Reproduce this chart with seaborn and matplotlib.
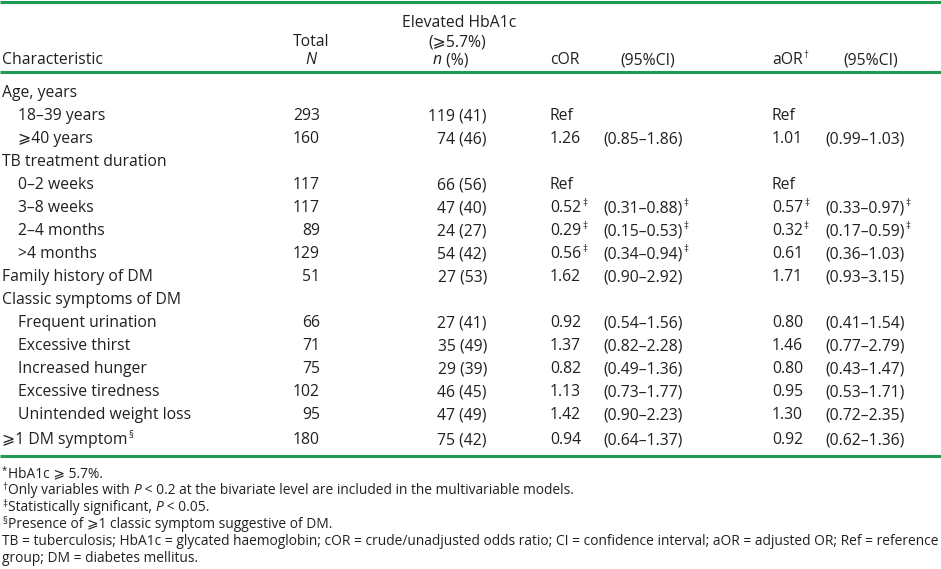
import matplotlib
matplotlib.use("Agg")
import matplotlib.pyplot as plt
import seaborn as sns

# ------------------------------------------------------------------ #
# Dados da tabela
# ------------------------------------------------------------------ #
caracteristicas = [
    "Age, years", "18–39 years", "⩾40 years",
    "TB treatment duration", "0–2 weeks", "3–8 weeks", "2–4 months", ">4 months",
    "Family history of DM",
    "Classic symptoms of DM", "Frequent urination", "Excessive thirst",
    "Increased hunger", "Excessive tiredness", "Unintended weight loss",
    "⩾1 DM symptom",
]
recuo = [0, 1, 1, 0, 1, 1, 1, 1, 0, 0, 1, 1, 1, 1, 1, 0]
total_n = [None, 293, 160, None, 117, 117, 89, 129, 51, None, 66, 71, 75, 102, 95, 180]
n_elevado = [None, 119, 74, None, 66, 47, 24, 54, 27, None, 27, 35, 29, 46, 47, 75]
pct_elevado = [None, 41, 46, None, 56, 40, 27, 42, 53, None, 41, 49, 39, 45, 49, 42]
cor = [None, "Ref", 1.26, None, "Ref", 0.52, 0.29, 0.56, 1.62, None,
       0.92, 1.37, 0.82, 1.13, 1.42, 0.94]
cor_ic = [None, None, (0.85, 1.86), None, None, (0.31, 0.88), (0.15, 0.53),
          (0.34, 0.94), (0.90, 2.92), None, (0.54, 1.56), (0.82, 2.28),
          (0.49, 1.36), (0.73, 1.77), (0.90, 2.23), (0.64, 1.37)]
cor_sig = [False] * 5 + [True, True, True] + [False] * 8
aor = [None, "Ref", 1.01, None, "Ref", 0.57, 0.32, 0.61, 1.71, None,
       0.80, 1.46, 0.80, 0.95, 1.30, 0.92]
aor_ic = [None, None, (0.99, 1.03), None, None, (0.33, 0.97), (0.17, 0.59),
          (0.36, 1.03), (0.93, 3.15), None, (0.41, 1.54), (0.77, 2.79),
          (0.43, 1.47), (0.53, 1.71), (0.72, 2.35), (0.62, 1.36)]
aor_sig = [False] * 5 + [True, True] + [False] * 9

notas = [
    ("*", [("HbA1c ⩾ 5.7%.", "normal")]),
    ("†", [("Only variables with ", "normal"), ("P", "italic"),
           (" < 0.2 at the bivariate level are included in the multivariable models.", "normal")]),
    ("‡", [("Statistically significant, ", "normal"), ("P", "italic"), (" < 0.05.", "normal")]),
    ("§", [("Presence of ⩾1 classic symptom suggestive of DM.", "normal")]),
]
nota_siglas = [
    "TB = tuberculosis; HbA1c = glycated haemoglobin; cOR = crude/unadjusted odds ratio; "
    "CI = confidence interval; aOR = adjusted OR; Ref = reference",
    "group; DM = diabetes mellitus.",
]

# ------------------------------------------------------------------ #
# Estilo
# ------------------------------------------------------------------ #
sns.set_theme(style="white")
plt.rcParams["font.family"] = ["Open Sans", "DejaVu Sans"]

COR_TEXTO = "#231f20"
VERDE = "#1f9a55"
FS = 11.3
FS_SUP = 7
FS_NOTA = 9.9

fig = plt.figure(figsize=(9.41, 5.69), dpi=100)
ax = fig.add_axes([0, 0, 1, 1])
ax.set_xlim(0, 941)
ax.set_ylim(569, 0)
ax.axis("off")
sns.despine(ax=ax, left=True, bottom=True)


def texto(x, y, s, ha="left", size=FS, style="normal"):
    return ax.text(x, y, s, ha=ha, va="baseline", fontsize=size,
                   fontstyle=style, color=COR_TEXTO)


def sobrescrito(artista, s, size=FS_SUP, dy=-6):
    # sinal pequeno logo depois do texto, um pouco acima da linha de base
    return ax.annotate(s, xy=(1, artista.get_position()[1] + dy),
                       xycoords=(artista, "data"), xytext=(0.6, 0),
                       textcoords="offset points", fontsize=size,
                       color=COR_TEXTO, va="baseline", ha="left")


def encadear(anterior, s, size, style="normal", y=None, espaco=0.0):
    if y is None:
        y = anterior.xy[1] if hasattr(anterior, "xy") else anterior.get_position()[1]
    return ax.annotate(s, xy=(1, y), xycoords=(anterior, "data"),
                       xytext=(espaco, 0), textcoords="offset points",
                       fontsize=size, fontstyle=style, color=COR_TEXTO,
                       va="baseline", ha="left")


# linhas verdes
for y_linha in (2, 72, 456):
    ax.plot([0, 941], [y_linha, y_linha], color=VERDE, lw=2.2,
            solid_capstyle="butt")

# cabeçalho
X_CAR, X_SUB = 2, 18
X_TOT, X_N = 320, 487
X_COR, X_COR_IC = 550, 603
X_AOR, X_AOR_IC = 772, 825

Y_H1, Y_H2, Y_H3 = 27, 46, 64
texto(X_CAR, Y_H3, "Characteristic")
texto(311, Y_H2, "Total", ha="center")
texto(311, Y_H3, "N", ha="center", style="italic")
texto(459, Y_H1, "Elevated HbA1c", ha="center")
texto(457, Y_H2, "(⩾5.7%)", ha="center")
t_n = texto(433, Y_H3, "n", style="italic")
encadear(t_n, " (%)", FS)
texto(X_COR, Y_H3, "cOR")
texto(620, Y_H3, "(95%CI)")
t_aor = texto(X_AOR, Y_H3, "aOR")
sobrescrito(t_aor, "†")
texto(843, Y_H3, "(95%CI)")

# linhas da tabela
Y0, PASSO = 97, 23
for i, rotulo in enumerate(caracteristicas):
    y = Y0 + i * PASSO + (2 if i == len(caracteristicas) - 1 else 0)
    t = texto(X_SUB if recuo[i] else X_CAR, y, rotulo)
    if i == len(caracteristicas) - 1:
        sobrescrito(t, "§")
    if total_n[i] is not None:
        texto(X_TOT, y, f"{total_n[i]}", ha="right")
        texto(X_N, y, f"{n_elevado[i]} ({pct_elevado[i]})", ha="right")
    if cor[i] is not None:
        v = cor[i] if isinstance(cor[i], str) else f"{cor[i]:.2f}"
        t = texto(X_COR, y, v)
        if cor_sig[i]:
            sobrescrito(t, "‡")
    if cor_ic[i] is not None:
        t = texto(X_COR_IC, y, f"({cor_ic[i][0]:.2f}–{cor_ic[i][1]:.2f})")
        if cor_sig[i]:
            sobrescrito(t, "‡")
    if aor[i] is not None:
        v = aor[i] if isinstance(aor[i], str) else f"{aor[i]:.2f}"
        t = texto(X_AOR, y, v)
        if aor_sig[i]:
            sobrescrito(t, "‡")
    if aor_ic[i] is not None:
        t = texto(X_AOR_IC, y, f"({aor_ic[i][0]:.2f}–{aor_ic[i][1]:.2f})")
        if aor_sig[i]:
            sobrescrito(t, "‡")

# notas de rodapé
Y_NOTA, PASSO_NOTA = 477, 17
for j, (marca, partes) in enumerate(notas):
    y = Y_NOTA + j * PASSO_NOTA
    m = texto(X_CAR, y - 4, marca, size=FS_SUP)
    anterior = encadear(m, partes[0][0], FS_NOTA, partes[0][1], y=y, espaco=0.8)
    for s, estilo in partes[1:]:
        anterior = encadear(anterior, s, FS_NOTA, estilo)
for k, linha in enumerate(nota_siglas):
    texto(X_CAR, Y_NOTA + (len(notas) + k) * PASSO_NOTA, linha, size=FS_NOTA)

fig.savefig("out.png", dpi=100)
plt.close(fig)
